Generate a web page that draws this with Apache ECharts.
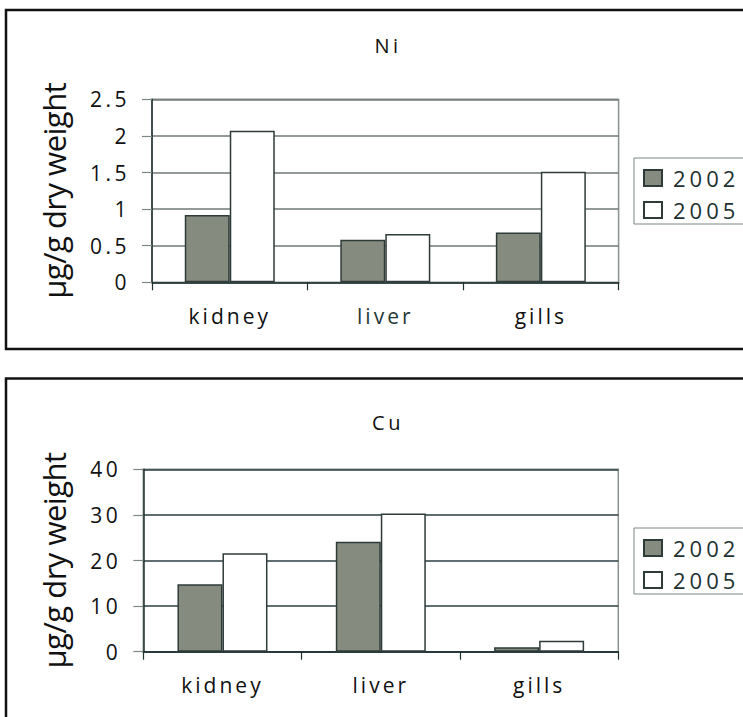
<!DOCTYPE html>
<html>
<head>
<meta charset="utf-8">
<script src="https://cdn.jsdelivr.net/npm/echarts@6/dist/echarts.min.js"></script>
<style>
  html, body { margin: 0; padding: 0; background: #fff; overflow: hidden; }
  #chart { width: 743px; height: 717px; }
</style>
</head>
<body>
<div id="chart"></div>
<script>
// Tissues sampled and survey years
const organs = ['kidney', 'liver', 'gills'];
const years = ['2002', '2005'];

// Nickel concentration (µg/g dry weight)
const ni2002 = [0.92, 0.58, 0.68];
const ni2005 = [2.07, 0.66, 1.51];

// Copper concentration (µg/g dry weight)
const cu2002 = [14.8, 24.1, 1.0];
const cu2005 = [21.6, 30.3, 2.4];

// Value-axis ticks for each panel
const niTicks = [0, 0.5, 1, 1.5, 2, 2.5];
const cuTicks = [0, 10, 20, 30, 40];

const yName = 'µg/g dry weight';
const FONT = '"Open Sans", sans-serif';
const INK = '#1e3131';

const fill2002 = '#858b7f';
const fill2005 = '#ffffff';
const edge = '#2e3b38';

function valueAxis(gridIndex, ticks, nameGap, gridColor) {
  return {
    type: 'value', gridIndex,
    min: ticks[0], max: ticks[ticks.length - 1], interval: ticks[1] - ticks[0],
    name: yName, nameLocation: 'middle', nameGap, nameRotate: 90,
    nameTextStyle: { fontFamily: FONT, fontSize: 31, color: '#111' },
    axisLine: { show: true, lineStyle: { color: INK, width: 1.5 } },
    axisTick: { show: true, length: 10, lineStyle: { color: '#7d8783', width: 1.2 } },
    axisLabel: { margin: 22, fontFamily: FONT, fontSize: 21, color: '#111' },
    splitLine: { show: true, lineStyle: { color: gridColor, width: 1.5 } }
  };
}

function categoryAxis(gridIndex, liverColor) {
  return {
    type: 'category', gridIndex,
    data: organs.map(o => o === 'liver' ? { value: o, textStyle: { color: liverColor } } : o),
    axisLine: { lineStyle: { color: INK, width: 1.5 } },
    axisTick: { show: true, length: 8, lineStyle: { color: INK, width: 1.2 } },
    axisLabel: { margin: 23, fontFamily: FONT, fontSize: 21, color: '#111' }
  };
}

function barSeries(name, data, axisIndex, color) {
  return {
    type: 'bar', name, data,
    xAxisIndex: axisIndex, yAxisIndex: axisIndex,
    barWidth: 45, barGap: '0%',
    itemStyle: { color, borderColor: edge, borderWidth: 1.5 }
  };
}

function legendAt(top) {
  return {
    orient: 'vertical', left: 634, top,
    data: years,
    icon: 'rect',
    padding: [9, 40, 3, 9],
    itemGap: 10, itemWidth: 18, itemHeight: 16,
    borderColor: '#7d8783', borderWidth: 1,
    textStyle: { fontFamily: FONT, fontSize: 22, color: INK, padding: [0, 0, 0, 6] }
  };
}

const option = {
  animation: false,
  backgroundColor: '#fff',
  title: [
    { text: 'Ni', left: 383, top: 30, textAlign: 'center',
      textStyle: { fontFamily: FONT, fontSize: 20, fontWeight: 'normal', color: '#111' } },
    { text: 'Cu', left: 383, top: 407, textAlign: 'center',
      textStyle: { fontFamily: FONT, fontSize: 20, fontWeight: 'normal', color: '#111' } }
  ],
  legend: [legendAt(158), legendAt(528)],
  grid: [
    { left: 152, top: 99.3, width: 466.6, height: 183, show: true, borderColor: '#8a928e', borderWidth: 1.5, backgroundColor: 'transparent' },
    { left: 143.3, top: 469.3, width: 475, height: 182.4, show: true, borderColor: '#8a928e', borderWidth: 1.5, backgroundColor: 'transparent' }
  ],
  xAxis: [categoryAxis(0, '#1f3838'), categoryAxis(1, '#111')],
  yAxis: [valueAxis(0, niTicks, 83, '#6f7975'), valueAxis(1, cuTicks, 74, '#2a3f3f')],
  series: [
    barSeries('2002', ni2002, 0, fill2002),
    barSeries('2005', ni2005, 0, fill2005),
    barSeries('2002', cu2002, 1, fill2002),
    barSeries('2005', cu2005, 1, fill2005)
  ],
  graphic: [
    { type: 'rect', z: 100, silent: true, shape: { x: 6, y: 10, width: 800, height: 339 },
      style: { fill: 'none', stroke: '#111', lineWidth: 2.5 } },
    { type: 'rect', z: 100, silent: true, shape: { x: 6, y: 378.5, width: 800, height: 400 },
      style: { fill: 'none', stroke: '#111', lineWidth: 2.5 } }
  ]
};

const chart = echarts.init(document.getElementById('chart'), null, { renderer: 'svg' });
chart.setOption(option);

// Wide tracking on the printed labels, slightly tight on the axis title
function applyTracking() {
  document.querySelectorAll('#chart svg text').forEach(t => {
    const s = t.textContent.trim();
    if (s === yName) t.style.letterSpacing = '-0.5px';
    else if (years.includes(s)) t.style.letterSpacing = '4px';
    else if (organs.includes(s)) t.style.letterSpacing = '3px';
    else t.style.letterSpacing = '3.5px';
  });
}
chart.on('finished', applyTracking);
applyTracking();
</script>
</body>
</html>
